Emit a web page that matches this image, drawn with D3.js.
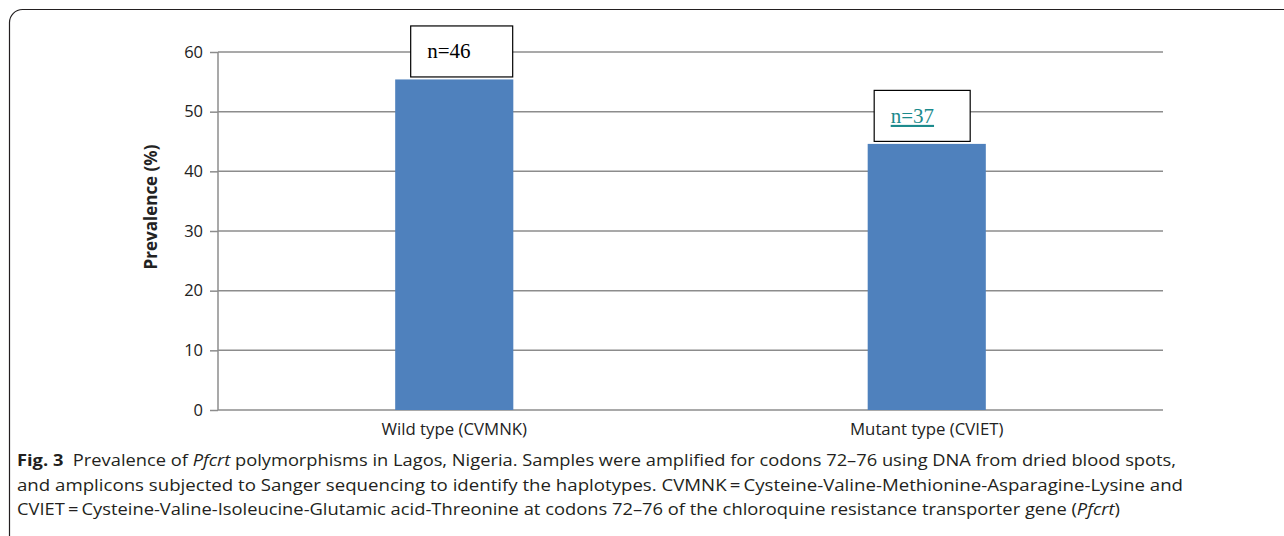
<!DOCTYPE html>
<html>
<head>
<meta charset="utf-8">
<script src="https://cdn.jsdelivr.net/npm/d3@7"></script>
<style>
  body { margin: 0; background: #fff; }
  .grid line { stroke: #8c8c8c; stroke-width: 1.5; }
  .caption { font-family: "Open Sans", sans-serif; font-size: 15.5px; fill: #231f20; }
</style>
</head>
<body>
<svg></svg>
<script>
var categories = ["Wild type (CVMNK)", "Mutant type (CVIET)"];
var prevalence = [55.4, 44.6];
var nLabels = ["n=46", "n=37"];
var yTicks = [0, 10, 20, 30, 40, 50, 60];

var width = 1284, height = 536;
var margin = {left: 218, right: 121, top: 52, bottom: 126};

var svg = d3.select("svg").attr("width", width).attr("height", height);

// outer frame, runs off the right and bottom edges
svg.append("rect")
  .attr("x", 9.5).attr("y", 9.5)
  .attr("width", 1320).attr("height", 560)
  .attr("rx", 13)
  .attr("fill", "none").attr("stroke", "#231f20").attr("stroke-width", 1.2);

var x = d3.scaleBand()
  .domain(categories)
  .range([margin.left, width - margin.right])
  .paddingInner(0.75)
  .paddingOuter(0.375);

var y = d3.scaleLinear()
  .domain([0, 60])
  .range([height - margin.bottom, margin.top]);

// gridlines
svg.append("g").attr("class", "grid")
  .selectAll("line").data(yTicks).enter().append("line")
  .attr("x1", margin.left).attr("x2", width - margin.right)
  .attr("y1", d => y(d)).attr("y2", d => y(d));

// y axis
var yAxis = svg.append("g")
  .attr("transform", "translate(" + margin.left + ",0)")
  .call(d3.axisLeft(y).tickValues(yTicks).tickSize(8).tickPadding(7));
yAxis.selectAll("line, path").attr("stroke", "#8c8c8c").attr("stroke-width", 1.5);
yAxis.select(".domain").attr("d", "M0," + y(0) + "V" + y(60));
yAxis.selectAll("text")
  .style("font-family", "'Open Sans', sans-serif")
  .style("font-size", "16.5px").style("fill", "#222");

// x axis labels
var xAxis = svg.append("g")
  .attr("transform", "translate(0," + y(0) + ")")
  .call(d3.axisBottom(x).tickSize(0).tickPadding(13));
xAxis.select(".domain").remove();
xAxis.selectAll("text")
  .style("font-family", "'Open Sans', sans-serif")
  .style("font-size", "16.8px").style("fill", "#222");

svg.append("text")
  .attr("transform", "translate(157,207) rotate(-90)")
  .attr("text-anchor", "middle")
  .style("font-family", "'Open Sans', sans-serif")
  .style("font-size", "17px").style("font-weight", "bold").style("fill", "#222")
  .text("Prevalence (%)");

// bars
svg.selectAll(".bar").data(prevalence).enter().append("rect")
  .attr("class", "bar")
  .attr("x", (d, i) => x(categories[i]))
  .attr("width", x.bandwidth())
  .attr("y", d => y(d))
  .attr("height", d => y(0) - y(d))
  .attr("fill", "#4f81bd");

// n= boxes above the bars
var boxOffset = [15, 6];
var boxW = [102, 96];
var boxH = 51;
var labelColor = ["#000", "#1b8a8c"];
nLabels.forEach(function(lab, i) {
  var bx = x(categories[i]) + boxOffset[i];
  var by = y(prevalence[i]) - 3 - boxH;
  svg.append("rect")
    .attr("x", bx + 0.5).attr("y", by + 0.5)
    .attr("width", boxW[i]).attr("height", boxH)
    .attr("fill", "#fff").attr("stroke", "#000").attr("stroke-width", 1.2);
  svg.append("text")
    .attr("x", bx + 17).attr("y", by + 33)
    .style("font-family", "'Liberation Serif', serif")
    .style("font-size", "21px").style("fill", labelColor[i])
    .style("text-decoration", i == 1 ? "underline" : "none")
    .text(lab);
});

// caption
var captionLines = [
  [["Fig. 3", "bold"], ["\u00a0\u00a0Prevalence of ", ""], ["Pfcrt", "italic"], [" polymorphisms in Lagos, Nigeria. Samples were amplified for codons 72–76 using DNA from dried blood spots,", ""]],
  [["and amplicons subjected to Sanger sequencing to identify the haplotypes. CVMNK\u2009=\u2009Cysteine-Valine-Methionine-Asparagine-Lysine and", ""]],
  [["CVIET\u2009=\u2009Cysteine-Valine-Isoleucine-Glutamic acid-Threonine at codons 72–76 of the chloroquine resistance transporter gene (", ""], ["Pfcrt", "italic"], [")", ""]]
];
var captionWidths = [1159, 1166, 1103];
captionLines.forEach(function(line, i) {
  var t = svg.append("text").attr("class", "caption")
    .attr("x", 17).attr("y", 466 + i * 24.5)
    .attr("textLength", captionWidths[i])
    .attr("lengthAdjust", "spacingAndGlyphs");
  line.forEach(function(p) {
    var s = t.append("tspan").text(p[0]);
    if (p[1] == "bold") s.style("font-weight", "bold");
    if (p[1] == "italic") s.style("font-style", "italic");
  });
});
</script>
</body>
</html>
